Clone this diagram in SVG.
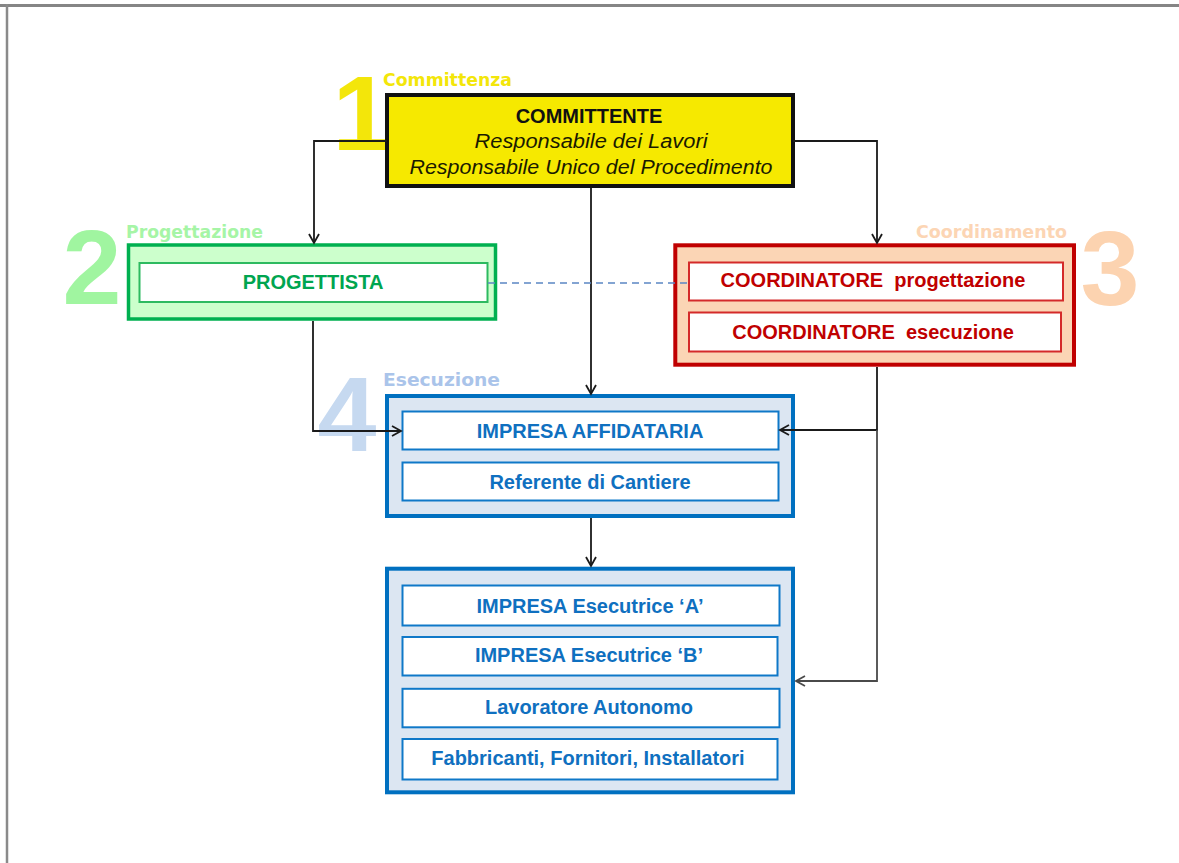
<svg xmlns="http://www.w3.org/2000/svg" width="1179" height="863" viewBox="0 0 1179 863">
<defs>
<style>
.big{font-family:"Liberation Sans",Arial,sans-serif;font-weight:bold;font-size:106px;text-anchor:middle}
.lbl{font-family:"DejaVu Sans","Liberation Sans",sans-serif;font-weight:bold;font-size:17.5px}
.t{font-family:"Liberation Sans",Arial,sans-serif;font-weight:bold;font-size:20px;text-anchor:middle}
.it{font-family:"Liberation Sans",Arial,sans-serif;font-style:italic;font-size:20px;text-anchor:middle;fill:#1a1a00}
.conn{fill:none;stroke:#1a1a1a;stroke-width:1.8}
.inB{fill:#fff;stroke:#0f78c8;stroke-width:2}
.tB{fill:#0f70c0}
</style>
<marker id="arr" markerWidth="12" markerHeight="12" refX="10" refY="6" orient="auto" markerUnits="userSpaceOnUse">
<path d="M1,1 L10,6 L1,11" fill="none" stroke="#1a1a1a" stroke-width="1.8"/>
</marker>
<marker id="arrG" markerWidth="12" markerHeight="12" refX="10" refY="6" orient="auto" markerUnits="userSpaceOnUse">
<path d="M1,1 L10,6 L1,11" fill="none" stroke="#4a4a4a" stroke-width="1.8"/>
</marker>
</defs>
<rect width="1179" height="863" fill="#fff"/>
<line x1="0" y1="5.5" x2="1179" y2="5.5" stroke="#858585" stroke-width="3"/>
<line x1="7" y1="4" x2="7" y2="863" stroke="#8a8a8a" stroke-width="2.5"/>

<g id="phase-labels">
<text class="big" x="362" y="150" fill="#f3e60a">1</text>
<text class="big" x="92" y="304" fill="#a0f5a0">2</text>
<text class="big" x="1110" y="305" fill="#fcd3b0">3</text>
<text class="big" x="347" y="451" fill="#c6d9f0">4</text>
<text class="lbl" x="383" y="86" fill="#f3e60a" textLength="129" lengthAdjust="spacingAndGlyphs">Committenza</text>
<text class="lbl" x="126" y="237.5" fill="#a6f5a6" textLength="137" lengthAdjust="spacingAndGlyphs">Progettazione</text>
<text class="lbl" x="916" y="237.5" fill="#fcd5b4" textLength="151" lengthAdjust="spacingAndGlyphs">Coordinamento</text>
<text class="lbl" x="383" y="386" fill="#aac4ea" textLength="117" lengthAdjust="spacingAndGlyphs">Esecuzione</text>
</g>

<g id="committente">
<rect x="387" y="95" width="406" height="91" fill="#f6e900" stroke="#111" stroke-width="4"/>
<text class="t" x="589" y="123" fill="#111">COMMITTENTE</text>
<text class="it" x="591" y="148" textLength="233" lengthAdjust="spacingAndGlyphs">Responsabile dei Lavori</text>
<text class="it" x="591" y="174" textLength="363" lengthAdjust="spacingAndGlyphs">Responsabile Unico del Procedimento</text>
</g>

<g id="progettista">
<rect x="128.5" y="245" width="367" height="74" fill="#ccffcc" stroke="#00b050" stroke-width="3.5"/>
<rect x="139.5" y="263" width="348" height="39" fill="#fff" stroke="#2dba60" stroke-width="2"/>
<text class="t" x="313" y="289" fill="#00a550">PROGETTISTA</text>
</g>

<g id="coordinatori">
<rect x="675.3" y="245.3" width="398.7" height="119.4" fill="#fbd5b5" stroke="#c00000" stroke-width="4"/>
<rect x="689" y="262.5" width="374" height="38" fill="#fff" stroke="#d42a2a" stroke-width="2"/>
<rect x="689" y="312.5" width="372" height="39" fill="#fff" stroke="#d42a2a" stroke-width="2"/>
<text class="t" x="873" y="287" fill="#c00000" xml:space="preserve">COORDINATORE  progettazione</text>
<text class="t" x="873" y="338.5" fill="#c00000" xml:space="preserve">COORDINATORE  esecuzione</text>
</g>

<g id="impresa-affidataria">
<rect x="387" y="396" width="406" height="120" fill="#dce6f2" stroke="#0070c0" stroke-width="4"/>
<rect class="inB" x="402.5" y="411.5" width="376" height="38"/>
<rect class="inB" x="402.5" y="462.5" width="376" height="38"/>
<text class="t tB" x="590" y="437.5">IMPRESA AFFIDATARIA</text>
<text class="t tB" x="590" y="489">Referente di Cantiere</text>
</g>

<g id="esecutori">
<rect x="387" y="568.7" width="406" height="223.6" fill="#dce6f2" stroke="#0070c0" stroke-width="4"/>
<rect class="inB" x="402.5" y="585.5" width="377" height="40"/>
<rect class="inB" x="402.5" y="637" width="375" height="38.5"/>
<rect class="inB" x="402.5" y="688.8" width="377" height="38.5"/>
<rect class="inB" x="402.5" y="739" width="375" height="40.5"/>
<text class="t tB" x="590" y="612.7">IMPRESA Esecutrice ‘A’</text>
<text class="t tB" x="589" y="661.7">IMPRESA Esecutrice ‘B’</text>
<text class="t tB" x="589" y="714">Lavoratore Autonomo</text>
<text class="t tB" x="588" y="765">Fabbricanti, Fornitori, Installatori</text>
</g>

<g id="connectors">
<path class="conn" d="M387,141 H314 V243" marker-end="url(#arr)"/>
<path class="conn" d="M793,141 H877 V243" marker-end="url(#arr)"/>
<path class="conn" d="M591,188 V394" marker-end="url(#arr)"/>
<path class="conn" d="M313,321 V431 H401" marker-end="url(#arr)"/>
<path class="conn" d="M877,367 V430 H780" marker-end="url(#arr)"/>
<path d="M877,430 V681 H796" fill="none" stroke="#4a4a4a" stroke-width="1.8" marker-end="url(#arrG)"/>
<path class="conn" d="M591,518 V566" marker-end="url(#arr)"/>
<line x1="488" y1="283" x2="688" y2="283" stroke="#5b86c4" stroke-width="1.5" stroke-dasharray="7,5"/>
</g>
</svg>
